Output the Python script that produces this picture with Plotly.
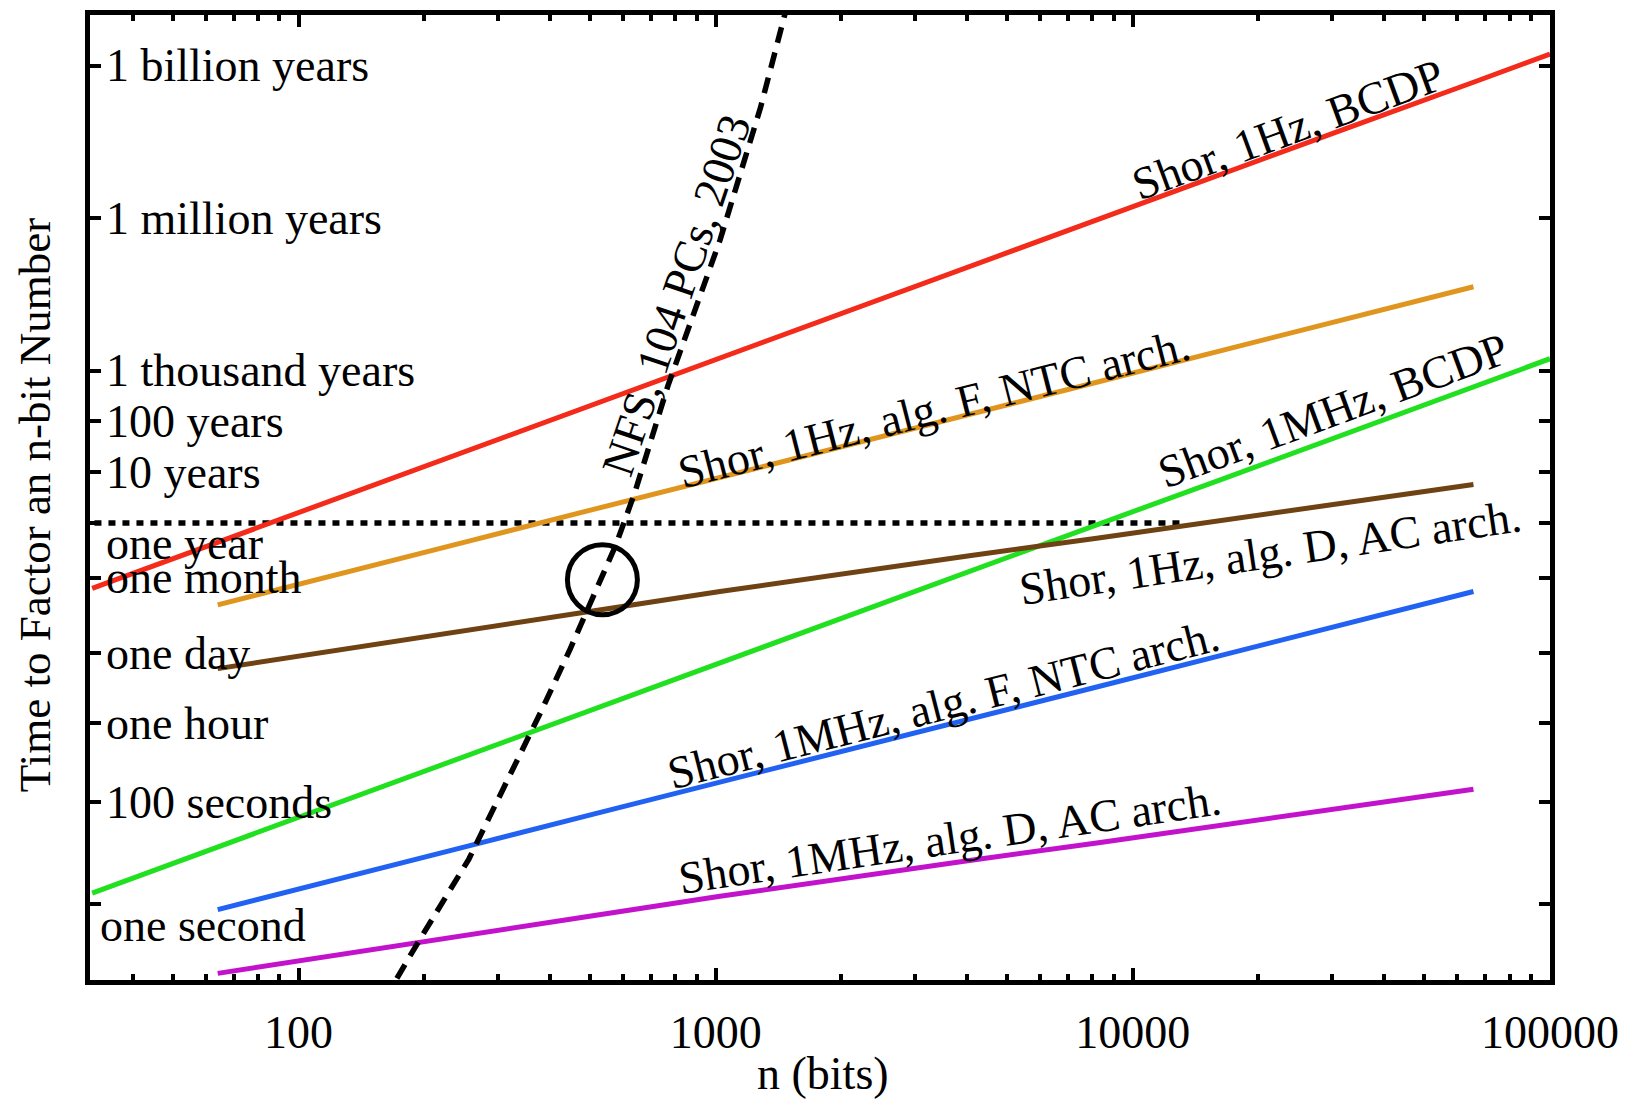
import math
import plotly.graph_objects as go

# ---------------- data ----------------
# bits for the BCDP curves (span full axis)
n_bcdp = [32, 64, 128, 256, 512, 1024, 2048, 4096, 8192, 16384, 32768, 65536, 100000]
t_shor_1hz_bcdp = [1.63e6, 1.32e7, 1.06e8, 8.5e8, 6.9e9, 5.5e10, 4.5e11, 3.6e12,
                   2.9e13, 2.3e14, 1.9e15, 1.5e16, 5.4e16]
t_shor_1mhz_bcdp = [1.63, 13.2, 106, 850, 6.9e3, 5.5e4, 4.5e5, 3.6e6,
                    2.9e7, 2.3e8, 1.9e9, 1.5e10, 5.4e10]

# bits for the architecture curves
n_arch = [64, 128, 256, 512, 1024, 2048, 4096, 8192, 16384, 32768, 65536]
t_shor_1hz_F_ntc = [7.7e5, 3.2e6, 1.38e7, 5.9e7, 2.45e8, 1.05e9, 4.4e9, 1.86e10,
                    7.9e10, 3.3e11, 1.41e12]
t_shor_1mhz_F_ntc = [0.77, 3.2, 13.8, 59, 245, 1050, 4400, 1.86e4, 7.9e4, 3.3e5, 1.41e6]
t_shor_1hz_D_ac = [4.27e4, 1.04e5, 2.45e5, 5.9e5, 1.41e6, 3.24e6, 7.2e6, 1.58e7,
                   3.55e7, 7.9e7, 1.80e8]
t_shor_1mhz_D_ac = [0.0427, 0.104, 0.245, 0.59, 1.41, 3.24, 7.2, 15.8, 35.5, 79, 180]

# classical number field sieve
n_nfs = [160, 192, 256, 320, 384, 448, 512, 576, 640, 768, 1024, 1280, 1536]
t_nfs = [0.0123, 0.158, 7.6, 302, 6.9e3, 1.05e5, 1.32e6, 1.15e7, 1.26e8, 1.58e10,
         1.17e13, 4.7e15, 1.45e18]

# one-year reference line and the circled point
n_year_line = [30, 13000]
t_year_line = [31557600, 31557600]
n_circle = [535]
t_circle = [2.4e6]

# y tick values (seconds) and their labels
y_tick_vals = [1, 100, 3600, 86400, 2629800, 31557600, 3.15576e8, 3.15576e9,
               3.15576e10, 3.15576e13, 3.15576e16]
y_tick_text = ["one second", "100 seconds", "one hour", "one day", "one month",
               "one year", "10 years", "100 years", "1 thousand years",
               "1 million years", "1 billion years"]

x_tick_vals = [100, 1000, 10000, 100000]
x_tick_text = ["100", "1000", "10000", "100000"]
x_minor_vals = [40, 50, 60, 70, 80, 90,
                200, 300, 400, 500, 600, 700, 800, 900,
                2000, 3000, 4000, 5000, 6000, 7000, 8000, 9000,
                20000, 30000, 40000, 50000, 60000, 70000, 80000, 90000]

series_labels = ["Shor, 1Hz, BCDP", "Shor, 1Hz, alg. F, NTC arch.", "Shor, 1MHz, BCDP",
                 "Shor, 1Hz, alg. D, AC arch.", "Shor, 1MHz, alg. F, NTC arch.",
                 "Shor, 1MHz, alg. D, AC arch.", "NFS, 104 PCs, 2003"]

# ---------------- figure ----------------
FONT = "Liberation Serif, Times New Roman, serif"
fig = go.Figure()

def add_line(x, y, color, width=5, dash="solid"):
    fig.add_trace(go.Scatter(x=x, y=y, mode="lines",
                             line=dict(color=color, width=width, dash=dash),
                             showlegend=False, hoverinfo="skip"))

add_line(n_year_line, t_year_line, "black", width=5.5, dash="7px,7px")
add_line(n_bcdp, t_shor_1hz_bcdp, "#f42a1a")
add_line(n_arch, t_shor_1hz_F_ntc, "#e0951e")
add_line(n_bcdp, t_shor_1mhz_bcdp, "#20e020")
add_line(n_arch, t_shor_1hz_D_ac, "#6e4212")
add_line(n_arch, t_shor_1mhz_F_ntc, "#2262f2")
add_line(n_arch, t_shor_1mhz_D_ac, "#c312cc")
add_line(n_nfs, t_nfs, "black", width=5.5, dash="16px,10px")

fig.add_trace(go.Scatter(x=n_circle, y=t_circle, mode="markers",
                         marker=dict(symbol="circle-open", size=70, color="black",
                                     line=dict(color="black", width=5)),
                         showlegend=False, hoverinfo="skip"))

# curve labels: (x log10 n, y log10 t, angle)
label_pos = [(4.372, 15.25, -20.2), (3.524, 9.744, -14.3), (4.480, 9.705, -20.2),
             (4.331, 6.923, -8.4), (3.545, 3.926, -14.3), (3.562, 1.282, -8.4),
             (2.905, 11.977, -71.3)]
annotations = []
for text, (lx, ly, ang) in zip(series_labels, label_pos):
    annotations.append(dict(x=lx, y=ly, xref="x", yref="y", text=text,
                            textangle=ang, showarrow=False,
                            font=dict(family=FONT, size=46, color="black")))

# y tick labels drawn inside the plot
label_yshift = {"one year": -21, "one second": -22}
label_xshift = {"one second": -6}
for val, text in zip(y_tick_vals, y_tick_text):
    annotations.append(dict(x=0, y=math.log10(val), xref="paper", yref="y",
                            xanchor="left", yanchor="middle", text=text,
                            xshift=14 + label_xshift.get(text, 0),
                            yshift=label_yshift.get(text, 0), showarrow=False,
                            font=dict(family=FONT, size=46, color="black")))

# axis titles
annotations.append(dict(x=-0.0377, y=0.493, xref="paper", yref="paper",
                        xanchor="center", yanchor="middle",
                        text="Time to Factor an n-bit Number", textangle=-90,
                        showarrow=False, font=dict(family=FONT, size=45, color="black")))
annotations.append(dict(x=0.502, y=-0.0965, xref="paper", yref="paper",
                        xanchor="center", yanchor="middle",
                        text="n (bits)", showarrow=False,
                        font=dict(family=FONT, size=46, color="black")))

# the page body adds an 8px offset; margins compensate so the frame
# lands at x 90..1550, y 10..980 of the window
fig.update_layout(
    width=1620, height=1092, autosize=False,
    margin=dict(l=82, r=78, t=2, b=120),
    paper_bgcolor="white", plot_bgcolor="white",
    annotations=annotations,
    font=dict(family=FONT, color="black"),
    xaxis=dict(type="log", range=[1.5, 5.0],
               tickvals=x_tick_vals, ticktext=x_tick_text,
               ticks="inside", ticklen=12, tickwidth=4, tickcolor="black",
               showline=True, linewidth=5, linecolor="black", mirror="allticks",
               showgrid=False, zeroline=False,
               tickfont=dict(family=FONT, size=46, color="black"),
               ticklabelstandoff=8,
               minor=dict(tickvals=x_minor_vals, ticks="inside", ticklen=6,
                          tickwidth=4, tickcolor="black", showgrid=False)),
    yaxis=dict(type="log", range=[-1.5, 17.5],
               tickvals=y_tick_vals, showticklabels=False,
               ticks="inside", ticklen=11, tickwidth=4, tickcolor="black",
               showline=True, linewidth=5, linecolor="black", mirror="allticks",
               showgrid=False, zeroline=False),
)

fig.write_html("out.html")
